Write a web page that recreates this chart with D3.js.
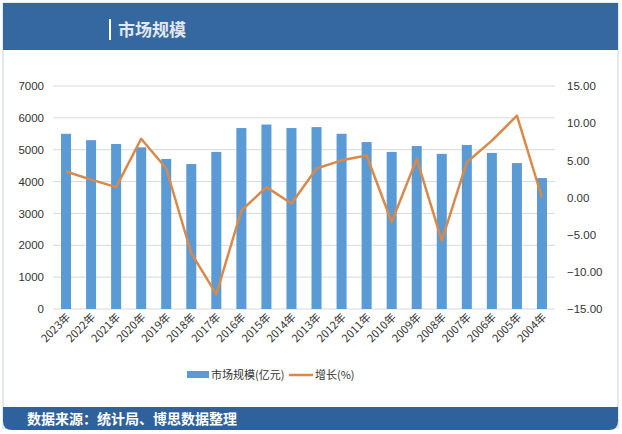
<!DOCTYPE html>
<html><head><meta charset="utf-8">
<script src="https://cdn.jsdelivr.net/npm/d3@7/dist/d3.min.js"></script>
<style>
html,body{margin:0;padding:0;background:#fff;}
svg{display:block;font-family:"Microsoft YaHei","Noto Sans CJK SC",sans-serif;}
</style></head>
<body><svg id="c" width="622" height="434"></svg>
<script>
const years = ["2023年","2022年","2021年","2020年","2019年","2018年","2017年","2016年","2015年","2014年","2013年","2012年","2011年","2010年","2009年","2008年","2007年","2006年","2005年","2004年"];
const marketSize = [5500,5300,5180,5075,4710,4550,4930,5680,5790,5680,5710,5500,5240,4930,5115,4870,5150,4900,4580,4110];
const growth = [3.5,2.4,1.4,7.9,3.9,-7.5,-13.0,-1.75,1.4,-0.8,3.9,5.0,5.65,-3.3,5.2,-5.8,4.75,7.65,11.0,0.0];
const leftTicks = [0,1000,2000,3000,4000,5000,6000,7000];
const rightTicks = [-15,-10,-5,0,5,10,15];
const titleText = "市场规模";
const sourceText = "数据来源：统计局、博思数据整理";
const seriesNames = ["市场规模(亿元)","增长(%)"];

const svg = d3.select("#c");
const blue = "#5b9bd5", orange = "#d9894a";

// frame
svg.append("rect").attr("x",3).attr("y",3).attr("width",615).attr("height",425).attr("fill","#fff").attr("stroke","#c9d3de").attr("stroke-width",1);
svg.append("rect").attr("x",3).attr("y",3).attr("width",615).attr("height",47).attr("fill","#3567a1");
svg.append("line").attr("x1",110).attr("x2",110).attr("y1",19).attr("y2",40).attr("stroke","#fff").attr("stroke-width",2);
svg.append("text").attr("x",118).attr("y",36).attr("fill","#fff").attr("font-size",17).attr("font-weight","bold").attr("opacity",0.85).text(titleText);
// footer with rounded bottom corners
const fx=3, fy=407, fw=615, fh=23, r=9;
svg.append("path").attr("d",`M${fx},${fy}H${fx+fw}V${fy+fh-r}Q${fx+fw},${fy+fh} ${fx+fw-r},${fy+fh}H${fx+r}Q${fx},${fy+fh} ${fx},${fy+fh-r}Z`).attr("fill","#2f619c");
svg.append("text").attr("x",27).attr("y",424).attr("fill","#fff").attr("font-size",14).attr("font-weight","bold").text(sourceText);

const x = d3.scaleBand().domain(years).range([53.5,554.5]).paddingInner(0.6).paddingOuter(0.3);
const yL = d3.scaleLinear().domain([0,7000]).range([309,86]);
const yR = d3.scaleLinear().domain([-15,15]).range([309,86]);

// grid
svg.append("g").selectAll("line").data(leftTicks).join("line")
  .attr("x1",53).attr("x2",555).attr("y1",d=>yL(d)).attr("y2",d=>yL(d))
  .attr("stroke","#d9d9d9").attr("stroke-width",1);

// left axis
const gl = svg.append("g").attr("transform","translate(53,0)").call(d3.axisLeft(yL).tickValues(leftTicks).tickSize(0).tickPadding(9).tickFormat(d3.format("d")));
gl.select(".domain").remove();
gl.selectAll("text").attr("font-size",11.5).attr("fill","#333").attr("font-family","Arial,'Liberation Sans',sans-serif");
// right axis
const gr = svg.append("g").attr("transform","translate(555,0)").call(d3.axisRight(yR).tickValues(rightTicks).tickSize(0).tickPadding(12).tickFormat(d3.format(".2f")));
gr.select(".domain").remove();
gr.selectAll("text").attr("font-size",11.5).attr("fill","#333").attr("font-family","Arial,'Liberation Sans',sans-serif");

// bars
svg.append("g").selectAll("rect").data(marketSize).join("rect")
  .attr("x",(d,i)=>x(years[i])).attr("width",x.bandwidth())
  .attr("y",d=>yL(d)).attr("height",d=>yL(0)-yL(d)).attr("fill",blue);

// line
const line = d3.line().x((d,i)=>x(years[i])+x.bandwidth()/2).y(d=>yR(d));
svg.append("path").datum(growth).attr("d",line).attr("fill","none").attr("stroke",orange).attr("stroke-width",2.5).attr("stroke-linejoin","round");

// x labels
svg.append("g").selectAll("text").data(years).join("text")
  .attr("transform",d=>`translate(${x(d)+x.bandwidth()/2+5},${318}) rotate(-45)`)
  .attr("text-anchor","end").attr("font-size",11).attr("fill","#333").text(d=>d);

// legend
const lg = svg.append("g");
lg.append("rect").attr("x",187).attr("y",371).attr("width",22).attr("height",7).attr("fill",blue);
lg.append("text").attr("x",211).attr("y",379).attr("font-size",11).attr("fill","#333").text(seriesNames[0]);
lg.append("line").attr("x1",289).attr("x2",313).attr("y1",375).attr("y2",375).attr("stroke",orange).attr("stroke-width",2.5);
lg.append("text").attr("x",315).attr("y",379).attr("font-size",11).attr("fill","#333").text(seriesNames[1]);
</script></body></html>
